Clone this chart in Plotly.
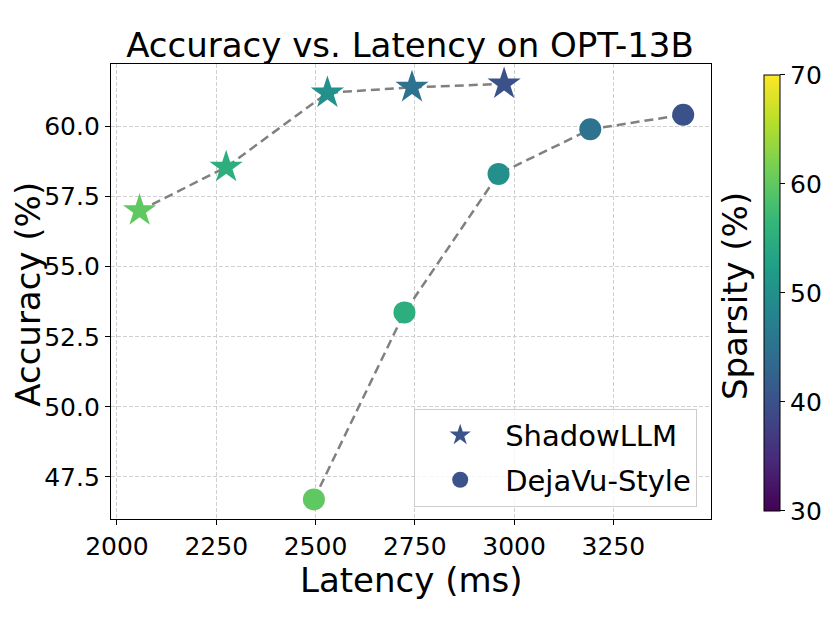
import plotly.graph_objects as go

# === Data ===
shadow_latency = [2057, 2275, 2530, 2743, 2975]
shadow_accuracy = [57.0, 58.55, 61.2, 61.4, 61.52]
shadow_sparsity = [60, 55, 50, 45, 40]

dejavu_latency = [2496, 2724, 2961, 3192, 3426]
dejavu_accuracy = [46.7, 53.37, 58.31, 59.9, 60.42]
dejavu_sparsity = [60, 55, 50, 45, 40]

x_ticks = [2000, 2250, 2500, 2750, 3000, 3250]
y_ticks = [47.5, 50.0, 52.5, 55.0, 57.5, 60.0]
cbar_ticks = [30, 40, 50, 60, 70]

FONT = "DejaVu Sans"
line_style = dict(color="gray", width=2.5, dash="9px,5px")

fig = go.Figure()

# dashed connecting lines
fig.add_trace(go.Scatter(x=shadow_latency, y=shadow_accuracy, mode="lines",
                         line=line_style, showlegend=False, hoverinfo="skip"))
fig.add_trace(go.Scatter(x=dejavu_latency, y=dejavu_accuracy, mode="lines",
                         line=line_style, showlegend=False, hoverinfo="skip"))

# markers coloured by sparsity
fig.add_trace(go.Scatter(
    x=shadow_latency, y=shadow_accuracy, mode="markers", showlegend=False,
    marker=dict(symbol="star", size=25, color=shadow_sparsity, colorscale="Viridis",
                cmin=30, cmax=70, line=dict(width=0),
                showscale=True,
                colorbar=dict(x=1.088, xanchor="left", xpad=0, ypad=0,
                              y=0.497, yanchor="middle",
                              thickness=16, len=436, lenmode="pixels",
                              tickvals=cbar_ticks, ticks="outside", ticklen=5,
                              tickcolor="black", outlinecolor="black", outlinewidth=1,
                              tickfont=dict(family=FONT, size=25, color="black"))),
))
fig.add_trace(go.Scatter(
    x=dejavu_latency, y=dejavu_accuracy, mode="markers", showlegend=False,
    marker=dict(symbol="circle", size=22, color=dejavu_sparsity, colorscale="Viridis",
                cmin=30, cmax=70, line=dict(width=0)),
))

# legend entries
fig.add_trace(go.Scatter(x=[None], y=[None], mode="markers", name="ShadowLLM",
                         legendgroup="a",
                         marker=dict(symbol="star", size=26, color="#3b528b")))
fig.add_trace(go.Scatter(x=[None], y=[None], mode="markers", name="DejaVu-Style",
                         legendgroup="b",
                         marker=dict(symbol="circle", size=22, color="#3b528b")))

axis_common = dict(
    showline=True, linecolor="black", linewidth=1.2, mirror=True,
    ticks="outside", ticklen=5, tickcolor="black",
    showgrid=True, gridcolor="#d0d0d0", griddash="4px,2px", gridwidth=1,
    zeroline=False, automargin=False,
    tickfont=dict(family=FONT, size=25, color="black"),
)

title_font = dict(family=FONT, size=34, color="black")

fig.update_layout(
    width=830, height=623,
    margin=dict(l=103, r=127, t=56, b=112),
    plot_bgcolor="white", paper_bgcolor="white",
    title=dict(text="Accuracy vs. Latency on OPT-13B", x=0.4843, xanchor="center",
               y=0.9406, yanchor="middle", font=title_font),
    xaxis=dict(axis_common, range=[1985, 3496], tickvals=x_ticks),
    yaxis=dict(axis_common, range=[46.0, 62.23], tickvals=y_ticks, tickformat=".1f"),
    legend=dict(x=0.977, xanchor="right", y=0.027, yanchor="bottom",
                bgcolor="rgba(255,255,255,0.8)", bordercolor="#cccccc", borderwidth=1,
                font=dict(family=FONT, size=29, color="black"),
                itemsizing="trace", itemwidth=80, tracegroupgap=4),
    annotations=[
        dict(text="Latency (ms)", xref="paper", yref="paper",
             x=0.5, y=-0.133, xanchor="center", yanchor="middle", showarrow=False,
             font=title_font),
        dict(text="Accuracy (%)", textangle=-90, xref="paper", yref="paper",
             x=-0.1383, y=0.493, xanchor="center", yanchor="middle", showarrow=False,
             font=title_font),
        dict(text="Sparsity (%)", textangle=-90, xref="paper", yref="paper",
             x=1.04, y=0.49, xanchor="center", yanchor="middle", showarrow=False,
             font=title_font),
    ],
)

fig.write_html("out.html")
